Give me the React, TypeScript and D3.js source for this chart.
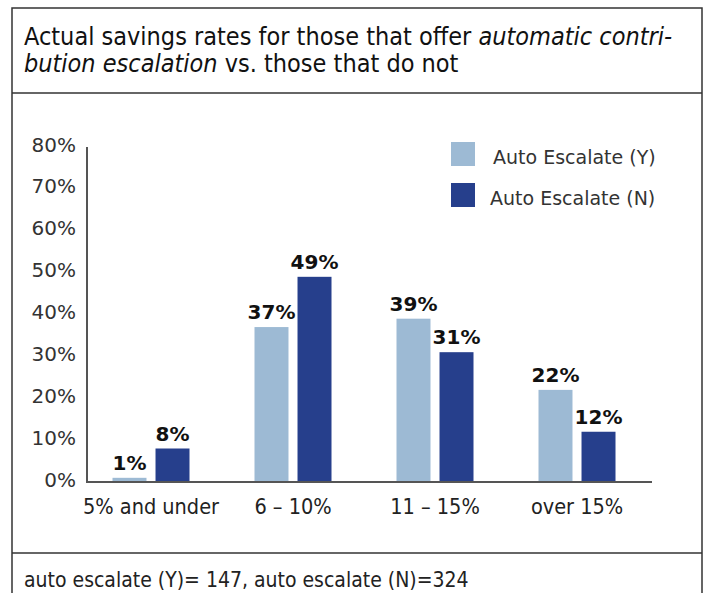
import React from 'react'
import { scaleBand, scaleLinear, scaleOrdinal } from 'd3'

const categories = ['5% and under', '6 – 10%', '11 – 15%', 'over 15%']
const series = ['Auto Escalate (Y)', 'Auto Escalate (N)']
const autoYes = [1, 37, 39, 22]
const autoNo = [8, 49, 31, 12]
const yTicks = [0, 10, 20, 30, 40, 50, 60, 70, 80]
const colors = ['#9dbad4', '#263f8c']

const W = 709
const H = 593
const PLOT = { left: 87, right: 652, top: 147, bottom: 482 }
const NARROW = '"DejaVu Sans Condensed", "DejaVu Sans", sans-serif'
const WIDE = '"DejaVu Sans", sans-serif'

export default function App() {
  const x = scaleBand<string>().domain(categories).range([80, 648])
  const x1 = scaleBand<string>().domain(series).range([-38.5, 38.5]).paddingInner(0.21)
  const y = scaleLinear().domain([0, 80]).range([PLOT.bottom, PLOT.top])
  const color = scaleOrdinal<string, string>().domain(series).range(colors)
  const values = [autoYes, autoNo]

  return (
    <svg width={W} height={H} style={{ position: 'absolute', left: 0, top: 0, background: '#fff' }}>
      {/* frame */}
      <g fill="none" stroke="#333" strokeWidth={1.5}>
        <path d={`M12,${H + 2} V8 H702 V${H + 2}`} />
        <line x1={12} x2={702} y1={93} y2={93} />
        <line x1={12} x2={702} y1={553} y2={553} />
      </g>

      <text x={24} y={45} fontFamily={NARROW} fontSize={25} fill="#111">
        Actual savings rates for those that offer <tspan fontStyle="italic">automatic contri-</tspan>
      </text>
      <text x={24} y={72} fontFamily={NARROW} fontSize={25} fill="#111">
        <tspan fontStyle="italic">bution escalation</tspan> vs. those that do not
      </text>

      {/* y axis */}
      <g fontFamily={WIDE} fontSize={20} fill="#333" textAnchor="end">
        {yTicks.map((t) => (
          <text key={t} x={76} y={y(t) + 4.5}>
            {t}%
          </text>
        ))}
      </g>
      <line x1={PLOT.left} x2={PLOT.left} y1={PLOT.top} y2={PLOT.bottom} stroke="#555" strokeWidth={2} />

      {/* bars */}
      {categories.map((c, i) => (
        <g key={c} transform={`translate(${x(c)! + x.bandwidth() / 2},0)`}>
          {series.map((s, j) => {
            const v = values[j][i]
            const bx = x1(s)!
            return (
              <g key={s}>
                <rect x={bx} y={y(v)} width={x1.bandwidth()} height={y(0) - y(v)} fill={color(s)} />
                <text
                  x={bx + x1.bandwidth() / 2}
                  y={y(v) - 8}
                  textAnchor="middle"
                  fontFamily={WIDE}
                  fontSize={20}
                  fontWeight={600}
                  fill="#111"
                >
                  {v}%
                </text>
              </g>
            )
          })}
          <text y={514} textAnchor="middle" fontFamily={NARROW} fontSize={21.5} fill="#222">
            {c}
          </text>
        </g>
      ))}
      <line x1={PLOT.left - 1} x2={PLOT.right} y1={PLOT.bottom} y2={PLOT.bottom} stroke="#555" strokeWidth={2} />

      {/* legend */}
      {series.map((s, j) => (
        <g key={s} transform={`translate(451,${142 + j * 41})`}>
          <rect width={24} height={24} fill={color(s)} />
          <text x={42 - j * 3} y={22} fontFamily={WIDE} fontSize={19} fill="#333">
            {s}
          </text>
        </g>
      ))}

      <text x={24} y={587} fontFamily={NARROW} fontSize={21} fill="#222">
        auto escalate (Y)= 147, auto escalate (N)=324
      </text>
    </svg>
  )
}
